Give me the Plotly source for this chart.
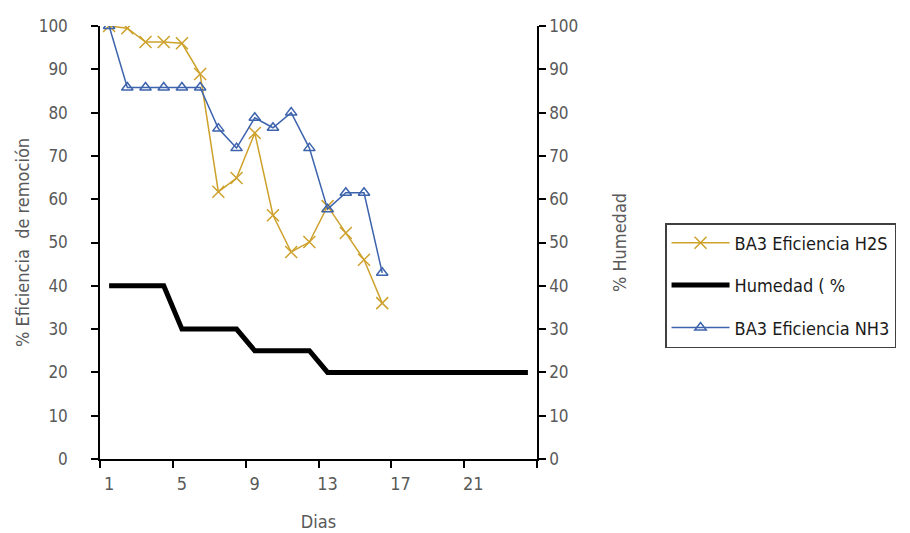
import plotly.graph_objects as go

dias = list(range(1, 25))
dias_ef = list(range(1, 17))
h2s = [100, 99.5, 96.3, 96.3, 96, 88.9, 61.7, 64.9, 75.3, 56.3, 47.8, 50.1, 58.4, 52.2, 46, 36]
nh3 = [100, 85.8, 85.8, 85.8, 85.8, 85.8, 76.3, 71.8, 78.8, 76.5, 80, 71.8, 57.7, 61.5, 61.5, 43]
humedad = [40, 40, 40, 40, 30, 30, 30, 30, 25, 25, 25, 25, 20, 20, 20, 20, 20, 20, 20, 20, 20, 20, 20, 20]
xlabels = ["1", "5", "9", "13", "17", "21"]
xlabel_vals = [1, 5, 9, 13, 17, 21]

FONT = "DejaVu Sans Condensed, Liberation Sans Narrow, sans-serif"
GOLD = "#CDA12B"
BLUE = "#3D63AD"
TXT = "#595959"

fig = go.Figure()
fig.add_trace(go.Scatter(
    x=dias_ef, y=h2s, name="BA3 Eficiencia H2S", mode="lines+markers",
    line=dict(color=GOLD, width=1.5),
    marker=dict(symbol="x-thin-open", size=12, line=dict(color=GOLD, width=1.5)),
    legendgroup="a"))
fig.add_trace(go.Scatter(
    x=dias, y=humedad, name="Humedad ( %", mode="lines",
    line=dict(color="black", width=5), yaxis="y2", legendgroup="b"))
fig.add_trace(go.Scatter(
    x=dias_ef, y=nh3, name="BA3 Eficiencia NH3", mode="lines+markers",
    line=dict(color=BLUE, width=1.5),
    marker=dict(symbol="triangle-up-open", size=10, color=BLUE, line=dict(color=BLUE, width=1.5)),
    legendgroup="c"))

fig.update_layout(
    width=910, height=533,
    margin=dict(l=100, r=373, t=26, b=74, autoexpand=False),
    plot_bgcolor="white", paper_bgcolor="white",
    font=dict(family=FONT, size=18, color=TXT),
    showlegend=True,
    legend=dict(x=1.293, y=0.545, xanchor="left", yanchor="top",
                bordercolor="#404040", borderwidth=1.5,
                font=dict(family=FONT, size=18, color="#1a1a1a"),
                traceorder="grouped", tracegroupgap=16, itemwidth=58),
    xaxis=dict(range=[0.5, 24.5], tickmode="array", tickvals=xlabel_vals, ticktext=xlabels,
               ticks="", showgrid=False, zeroline=False, ticklabelstandoff=8, automargin=False,
               showline=True, linecolor="black", linewidth=1.5,
               minor=dict(tickmode="array", tickvals=[0.5, 4.5, 8.5, 12.5, 16.5, 20.5, 24.5],
                          ticks="outside", ticklen=7, tickwidth=1.5, tickcolor="black", showgrid=False),
               title=dict(text="Dias", standoff=22, font=dict(size=18, color=TXT))),
    yaxis=dict(range=[0, 100], dtick=10, ticks="outside", ticklen=7, tickwidth=1.5, tickcolor="black",
               showgrid=False, zeroline=False, showline=True, linecolor="black", linewidth=1.5,
               ticklabelstandoff=20, automargin=False, tickfont=dict(size=17),
               title=dict(text="% Eficiencia  de remoción", standoff=4, font=dict(size=18, color=TXT))),
    yaxis2=dict(range=[0, 100], dtick=10, overlaying="y", side="right", anchor="x",
                ticks="outside", ticklen=7, tickwidth=1.5, tickcolor="black",
                showgrid=False, zeroline=False, showline=True, linecolor="black", linewidth=1.5,
                ticklabelstandoff=0, automargin=False, tickfont=dict(size=17),
                title=dict(text="% Humedad", standoff=36, font=dict(size=18, color=TXT))),
)
fig.write_html("out.html")
